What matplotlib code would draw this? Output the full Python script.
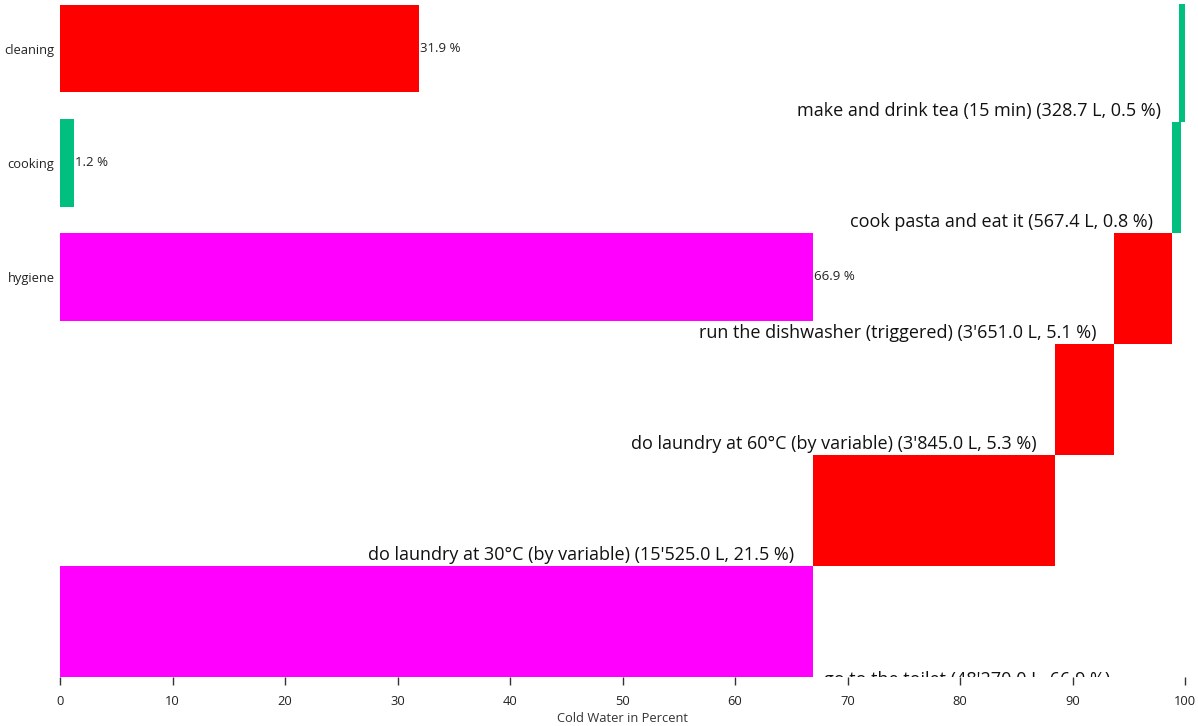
import numpy as np
import matplotlib
matplotlib.use("Agg")
import matplotlib.pyplot as plt

plt.rcParams['font.family'] = ['Open Sans', 'DejaVu Sans']

# share of cold water per category (left bars)
categories = ['cleaning', 'cooking', 'hygiene']
category_pct = [31.9, 1.2, 66.9]
category_colors = ['#ff0000', '#00bf7f', '#ff00ff']

# single activities, stacked as a waterfall (top to bottom)
activities = [
    'make and drink tea (15 min)',
    'cook pasta and eat it',
    'run the dishwasher (triggered)',
    'do laundry at 60°C (by variable)',
    'do laundry at 30°C (by variable)',
    'go to the toilet',
]
activity_litres = ["328.7", "567.4", "3'651.0", "3'845.0", "15'525.0", "48'270.0"]
activity_pct = [0.5, 0.8, 5.1, 5.3, 21.5, 66.9]
activity_colors = ['#00bf7f', '#00bf7f', '#ff0000', '#ff0000', '#ff0000', '#ff00ff']

W, H = 1198, 726
fig = plt.figure(figsize=(W / 100, H / 100), dpi=100)
ax = fig.add_axes([60 / W, 1 - 677 / H, 1125 / W, 673 / H])

y_top = -0.063
ax.set_xlim(0, 100)
ax.set_ylim(6, y_top)

# waterfall: bars start where the previous ones (lower in the chart) end
n = len(activities)
starts = np.zeros(n)
acc = 0.0
for i in range(n - 1, -1, -1):
    starts[i] = acc
    acc += activity_pct[i]
# last bar sits on the total of 100 %
starts[0] = 100 - activity_pct[0]
edges = np.arange(n + 1, dtype=float)
edges[0] = y_top - 0.05
edges[-1] = n + 0.2
for i in range(n):
    ax.barh(edges[i], activity_pct[i], left=starts[i], height=edges[i + 1] - edges[i],
            align='edge', color=activity_colors[i], linewidth=0)
    label = '%s (%s L, %.1f %%)' % (activities[i], activity_litres[i], activity_pct[i])
    if i == n - 1:
        # does not fit left of the bar, goes to the right and is cut by the axis
        ax.annotate(label, (starts[i] + activity_pct[i], i + 1), xytext=(8, -5.5),
                    textcoords='offset points', ha='left', va='baseline',
                    fontsize=13, color='#111111', annotation_clip=False, clip_on=True)
    else:
        ax.annotate(label, (starts[i], i + 1), xytext=(-13, 4.5),
                    textcoords='offset points', ha='right', va='baseline',
                    fontsize=13, color='#111111')

# category bars on top
cat_y = 0.338 + 1.029 * np.arange(len(categories))
ax.barh(cat_y, category_pct, height=0.79, color=category_colors, linewidth=0)
for y, v in zip(cat_y, category_pct):
    ax.annotate('%.1f %%' % v, (v, y), xytext=(1, 0), textcoords='offset points',
                ha='left', va='center', fontsize=9.5, color='#222222')

ax.set_yticks(cat_y)
ax.set_yticklabels(categories, fontsize=9.3, color='#222222')
ax.tick_params(axis='y', length=0, pad=4)

ax.set_xticks(np.arange(0, 101, 10))
ax.tick_params(axis='x', length=6, width=1, color='#333333', labelsize=9.3,
               labelcolor='#222222', pad=7, direction='out')
ax.set_xlabel('Cold Water in Percent', fontsize=9.3, color='#333333', labelpad=3)

for s in ax.spines.values():
    s.set_visible(False)

fig.savefig('out.png', dpi=100)
